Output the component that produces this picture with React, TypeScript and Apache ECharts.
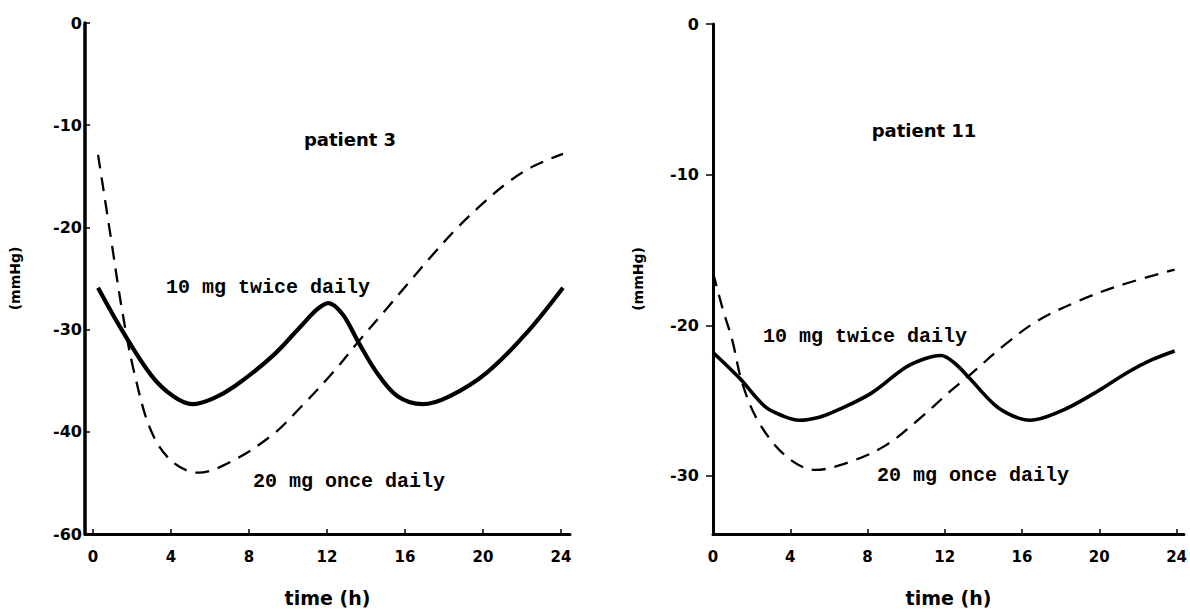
import React, { useEffect, useRef } from "react";
import * as echarts from "echarts";

// Patient 3 (left panel)
const p3TwiceHours = [0.26, 1.5, 3.0, 4.1, 5.1, 6.2, 7.3, 9.2, 10.6, 11.5, 12.07, 12.8, 13.6, 14.55, 15.6, 16.9, 18.3, 20.2, 22.2, 24.1];
const p3TwiceValues = [-25.9, -30.1, -34.5, -36.5, -37.3, -36.7, -35.5, -32.6, -29.8, -28.0, -27.4, -28.5, -31.2, -34.2, -36.5, -37.3, -36.5, -34.2, -30.4, -25.9];
const p3OnceHours = [0.26, 0.9, 1.5, 2.15, 3.0, 4.05, 5.4, 7.1, 9.2, 10.6, 12.3, 13.6, 14.9, 16.1, 17.5, 18.65, 19.85, 21.2, 22.6, 24.1];
const p3OnceValues = [-12.9, -20.8, -28.2, -34.5, -40.0, -42.9, -44.0, -42.9, -40.3, -37.7, -34.2, -31.2, -28.3, -25.6, -22.5, -20.1, -17.9, -15.7, -14.0, -12.8];

// Patient 11 (right panel)
const p11TwiceHours = [0, 1.37, 2.7, 3.6, 4.46, 5.5, 6.5, 8.2, 9.96, 11.0, 11.8, 12.5, 13.2, 14.6, 15.5, 16.4, 18.0, 19.75, 21.5, 22.7, 23.9];
const p11TwiceValues = [-21.8, -23.5, -25.4, -26.0, -26.3, -26.1, -25.6, -24.5, -22.8, -22.2, -22.0, -22.5, -23.4, -25.3, -26.0, -26.3, -25.7, -24.5, -23.1, -22.3, -21.7];
const p11OnceHours = [0, 0.5, 1.0, 1.53, 2.4, 3.8, 5.3, 7.0, 8.9, 10.6, 12.35, 13.2, 15.1, 16.8, 18.9, 20.95, 23.9];
const p11OnceValues = [-16.5, -18.9, -21.0, -23.9, -26.5, -28.7, -29.6, -29.1, -28.0, -26.3, -24.3, -23.4, -21.3, -19.7, -18.4, -17.4, -16.3];

// Ticks and labels
const xTicks = [0, 4, 8, 12, 16, 20, 24];
const xTickLabels = ["0", "4", "8", "12", "16", "20", "24"];
const leftYTicks = [0, -10, -20, -30, -40, -50];
const leftYTickLabels = ["0", "-10", "-20", "-30", "-40", "-60"];
const rightYTicks = [0, -10, -20, -30];
const rightYTickLabels = ["0", "-10", "-20", "-30"];

const leftTitle = "patient 3";
const rightTitle = "patient 11";
const twiceLabel = "10 mg twice daily";
const onceLabel = "20 mg once daily";
const xName = "time (h)";
const yName = "(mmHg)";

const pairs = (xs: number[], ys: number[]) => xs.map((x, i) => [x, ys[i]]);

const tickFont = { color: "#000", fontFamily: "DejaVu Sans", fontWeight: "bold" as const };

function makeXAxis(gridIndex: number, min: number, max: number) {
  return {
    type: "value",
    gridIndex,
    min,
    max,
    name: xName,
    nameLocation: "middle",
    nameGap: 54,
    nameTextStyle: { color: "#000", fontFamily: "DejaVu Sans", fontWeight: "bold", fontSize: 19 },
    axisLine: { show: true, onZero: false, lineStyle: { color: "#000", width: 3 } },
    axisTick: { show: true, inside: true, length: 5, customValues: xTicks, lineStyle: { color: "#000", width: 1.5 } },
    axisLabel: {
      ...tickFont,
      fontSize: 15,
      margin: 15,
      customValues: xTicks,
      formatter: (v: number) => xTickLabels[xTicks.indexOf(Math.round(v))] ?? "",
    },
    splitLine: { show: false },
  };
}

export default function App() {
  const ref = useRef<HTMLDivElement>(null);
  useEffect(() => {
    if (!ref.current) return;
    const chart = echarts.init(ref.current, undefined, { renderer: "svg" });
    const solid = (w: number) => ({ color: "#000", width: w, type: "solid" as const });
    const dashed = { color: "#000", width: 2.3, type: [14, 9] as any };
    chart.setOption({
      animation: false,
      backgroundColor: "#fff",
      grid: [
        { left: 85, top: 23, width: 485, height: 521, containLabel: false },
        { left: 713, top: 24, width: 473, height: 519, containLabel: false },
      ],
      xAxis: [makeXAxis(0, -0.41, 24.46), makeXAxis(1, 0, 24.38)],
      yAxis: [
        {
          type: "value",
          gridIndex: 0,
          min: -50,
          max: 0,
          interval: 10,
          name: yName,
          nameLocation: "middle",
          nameRotate: 90,
          nameGap: 63,
          nameTextStyle: { color: "#000", fontFamily: "DejaVu Sans", fontWeight: "bold", fontSize: 14 },
          axisLine: { show: true, onZero: false, lineStyle: { color: "#000", width: 3.5 } },
          axisTick: { show: true, inside: true, length: 5, lineStyle: { color: "#000", width: 1.5 } },
          axisLabel: {
            ...tickFont,
            fontSize: 16,
            margin: 3,
            formatter: (v: number) => leftYTickLabels[leftYTicks.indexOf(Math.round(v))] ?? "",
          },
          splitLine: { show: false },
        },
        {
          type: "value",
          gridIndex: 1,
          min: -33.85,
          max: 0,
          name: yName,
          nameLocation: "middle",
          nameRotate: 90,
          nameGap: 68,
          nameTextStyle: { color: "#000", fontFamily: "DejaVu Sans", fontWeight: "bold", fontSize: 14 },
          axisLine: { show: true, onZero: false, lineStyle: { color: "#000", width: 3 } },
          axisTick: { show: true, inside: false, length: 7, customValues: rightYTicks, lineStyle: { color: "#000", width: 1.5 } },
          axisLabel: {
            ...tickFont,
            fontSize: 16,
            margin: 14,
            customValues: rightYTicks,
            formatter: (v: number) => rightYTickLabels[rightYTicks.indexOf(Math.round(v))] ?? "",
          },
          splitLine: { show: false },
        },
      ],
      series: [
        { type: "line", xAxisIndex: 0, yAxisIndex: 0, data: pairs(p3TwiceHours, p3TwiceValues), showSymbol: false, smooth: 0.35, lineStyle: solid(4.2) },
        { type: "line", xAxisIndex: 0, yAxisIndex: 0, data: pairs(p3OnceHours, p3OnceValues), showSymbol: false, smooth: 0.35, lineStyle: dashed },
        { type: "line", xAxisIndex: 1, yAxisIndex: 1, data: pairs(p11TwiceHours, p11TwiceValues), showSymbol: false, smooth: 0.35, lineStyle: solid(3.6) },
        { type: "line", xAxisIndex: 1, yAxisIndex: 1, data: pairs(p11OnceHours, p11OnceValues), showSymbol: false, smooth: 0.35, lineStyle: dashed },
      ],
      graphic: [
        { type: "text", x: 350, y: 139, style: { text: leftTitle, fill: "#000", font: "bold 18px 'DejaVu Sans'", textAlign: "center", textVerticalAlign: "middle" } },
        { type: "text", x: 924, y: 130, style: { text: rightTitle, fill: "#000", font: "bold 18px 'DejaVu Sans'", textAlign: "center", textVerticalAlign: "middle" } },
        { type: "text", x: 166, y: 287, style: { text: twiceLabel, fill: "#000", font: "bold 20px 'Liberation Mono'", textAlign: "left", textVerticalAlign: "middle" } },
        { type: "text", x: 253, y: 481, style: { text: onceLabel, fill: "#000", font: "bold 20px 'Liberation Mono'", textAlign: "left", textVerticalAlign: "middle" } },
        { type: "text", x: 763, y: 336, style: { text: twiceLabel, fill: "#000", font: "bold 20px 'Liberation Mono'", textAlign: "left", textVerticalAlign: "middle" } },
        { type: "text", x: 877, y: 475, style: { text: onceLabel, fill: "#000", font: "bold 20px 'Liberation Mono'", textAlign: "left", textVerticalAlign: "middle" } },
      ],
    });
    return () => chart.dispose();
  }, []);
  return (
    <div
      ref={ref}
      style={{ position: "absolute", left: 0, top: 0, width: 1190, height: 612, background: "#fff" }}
    />
  );
}
